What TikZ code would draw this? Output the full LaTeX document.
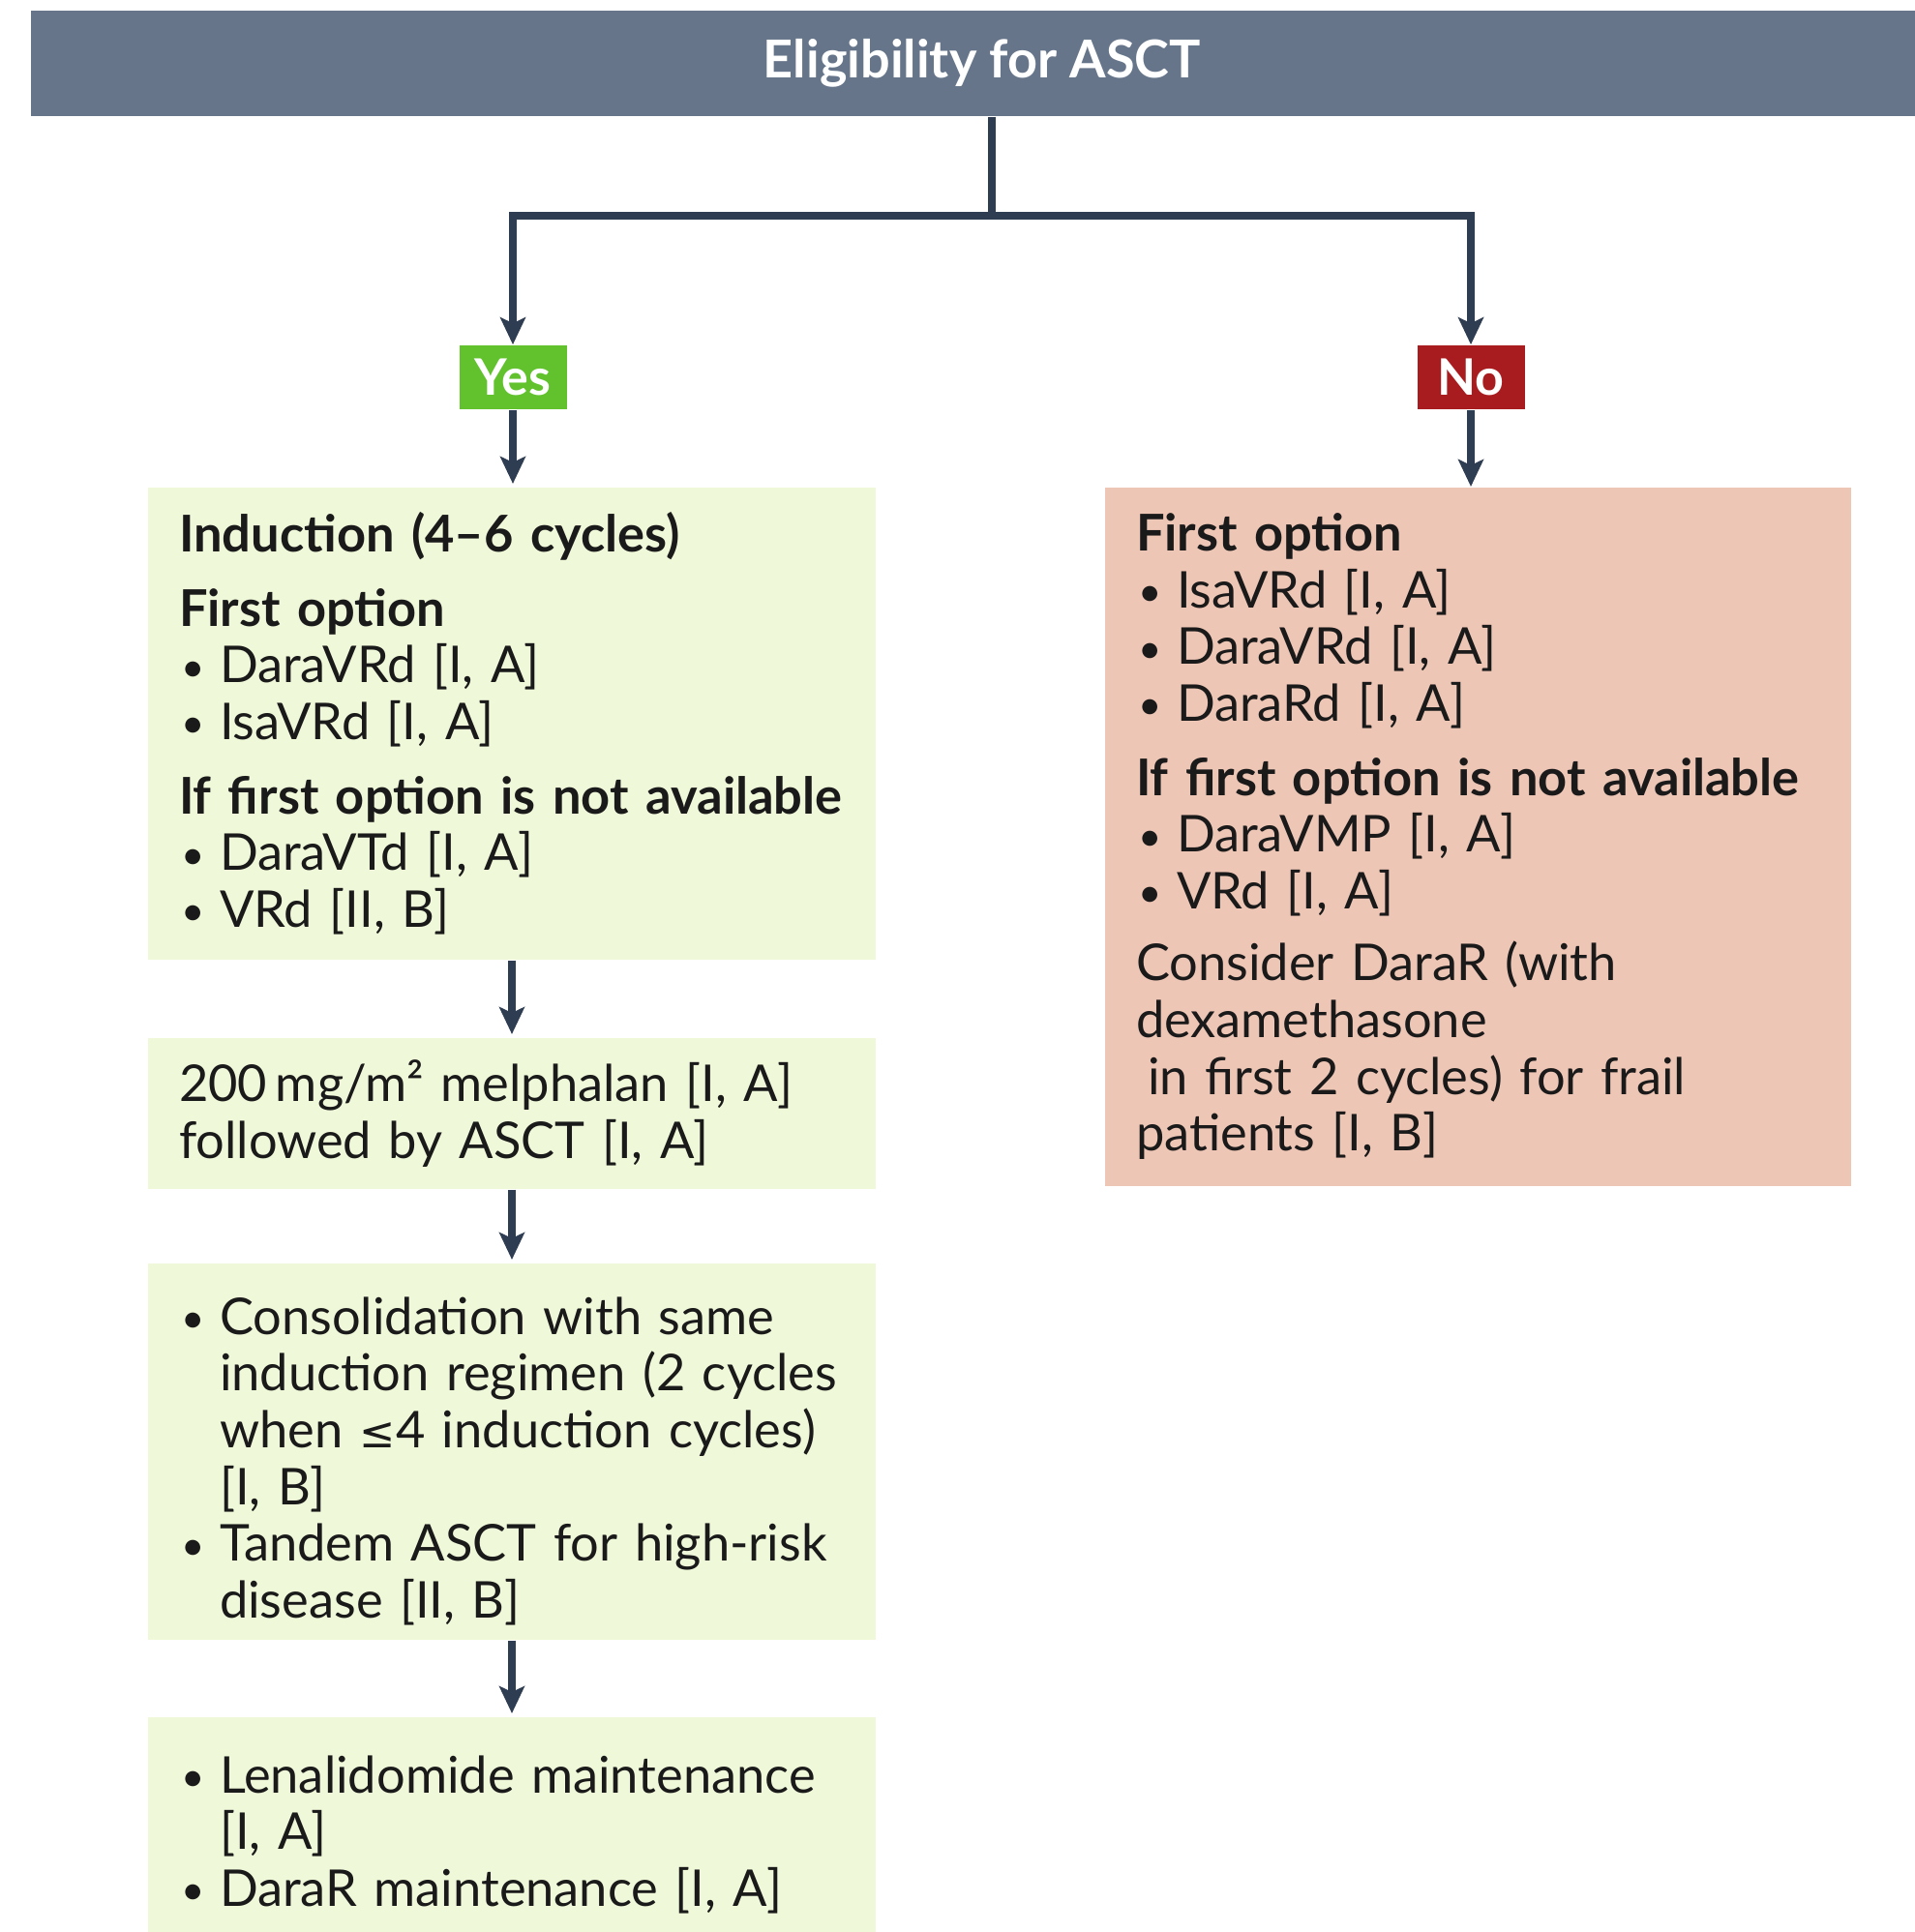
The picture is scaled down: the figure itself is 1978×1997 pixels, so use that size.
\documentclass[tikz,border=0pt]{standalone}
\usepackage{fontspec}
\setmainfont{Lato}
\newfontfamily\symfont[Scale=0.85]{DejaVu Sans}
\usetikzlibrary{arrows.meta}

\definecolor{headgray}{RGB}{102,117,138}
\definecolor{linenavy}{RGB}{46,61,82}
\definecolor{yesgreen}{RGB}{98,194,46}
\definecolor{nored}{RGB}{168,28,32}
\definecolor{yesfill}{RGB}{239,248,217}
\definecolor{nofill}{RGB}{238,198,182}
\definecolor{inkblack}{RGB}{26,26,26}

% bullet line with hanging indent, heading of a group
\newcommand{\bitem}[1]{\par\hangindent=10.5pt\hangafter=1\noindent
  \makebox[10.5pt][l]{\hspace{0.5pt}\raisebox{0.4pt}{\fontsize{10.5}{10.5}\selectfont\textbullet}}#1\par}
\newcommand{\grp}[1]{\par\vspace{4.5pt}\noindent\textbf{#1}}

\begin{document}
\begin{tikzpicture}[x=0.25pt, y=-0.25pt,
    box/.style={inner xsep=8pt, inner ysep=0pt, align=left, anchor=north, text=inkblack,
      font=\fontsize{13.1}{14.65}\selectfont},
    yesbox/.style={box, fill=yesfill, text width=172pt},
    nobox/.style={box, fill=nofill, text width=176.75pt},
    tag/.style={text=white, font=\bfseries\fontsize{13}{15}\selectfont,
      minimum width=27.75pt, minimum height=16.5pt, inner sep=0pt},
    link/.style={draw=linenavy, line width=2pt},
    arrow/.style={link, -{Stealth[length=7pt, width=6.5pt, inset=1.5pt]}}]
  \useasboundingbox (0,0) rectangle (1978,1997);

  \node[fill=headgray, text=white, font=\bfseries\fontsize{13.5}{16}\selectfont,
    minimum width=491.5pt, minimum height=27.25pt, inner sep=0pt, anchor=north west]
    (hdr) at (31,10) {Eligibility for ASCT};

  \node[tag, fill=yesgreen] (yes) at (530,390) {Yes};
  \node[tag, fill=nored] (no) at (1520,390) {No};

  % transplant eligible
  \node[yesbox, minimum height=122pt] (induct) at (529,503) {%
    \textbf{Induction (4–6 cycles)}%
    \grp{First option}\bitem{DaraVRd [I, A]}\bitem{IsaVRd [I, A]}%
    \grp{If first option is not available}\bitem{DaraVTd [I, A]}\bitem{VRd [II, B]}};

  \node[yesbox, minimum height=39pt] (melph) at (529,1072) {%
    200\,mg/m² melphalan [I, A]\newline followed by ASCT [I, A]};

  \node[yesbox, minimum height=97.25pt] (consol) at (529,1305) {%
    \bitem{Consolidation with same\newline induction regimen (2 cycles\newline
      when {\symfont ≤}4 induction cycles)\newline [I, B]}%
    \bitem{Tandem ASCT for high-risk\newline disease [II, B]}};

  \node[yesbox, minimum height=55.75pt] (maint) at (529,1774) {%
    \bitem{Lenalidomide maintenance\newline [I, A]}\bitem{DaraR maintenance [I, A]}};

  % transplant ineligible
  \node[nobox, minimum height=180.5pt] (nonasct) at (1527.5,503) {%
    \textbf{First option}%
    \bitem{IsaVRd [I, A]}\bitem{DaraVRd [I, A]}\bitem{DaraRd [I, A]}%
    \grp{If first option is not available}\bitem{DaraVMP [I, A]}\bitem{VRd [I, A]}%
    \vspace{4pt}\noindent Consider DaraR (with\newline dexamethasone\newline
    \hspace*{3pt}in first 2 cycles) for frail\newline patients [I, B]};

  \coordinate (split) at (1025,223);
  \draw[link] (split |- hdr.south) -- (split);
  \foreach \t in {yes, no} {
    \draw[arrow] (split) -| (\t);
  }
  \draw[arrow] (no) -- (no |- nonasct.north);
  \foreach \a/\b in {yes/induct, induct/melph, melph/consol, consol/maint} {
    \draw[arrow, shorten >=0.75pt] (\a) -- (\a |- \b.north);
  }
\end{tikzpicture}
\end{document}
